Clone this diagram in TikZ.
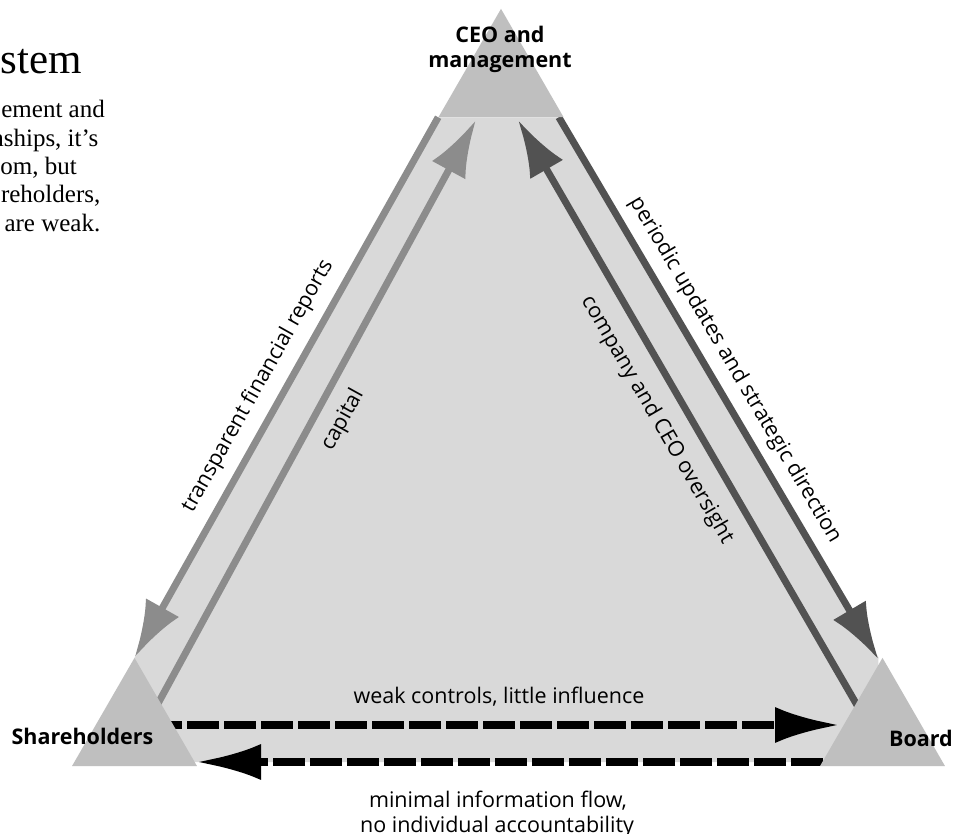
\documentclass[tikz,border=0pt]{standalone}
\usepackage{fontspec}
\setmainfont{Open Sans}
\newfontfamily\serifA{Liberation Serif}
\usetikzlibrary{arrows.meta,shapes.geometric}
\definecolor{regionfill}{HTML}{D9D9D9}
\definecolor{trifill}{HTML}{BFBFBF}
\definecolor{lgray}{HTML}{8C8C8C}
\definecolor{dgray}{HTML}{525252}
\pgfdeclarelayer{bglayer}
\pgfdeclarelayer{midlayer}
\pgfsetlayers{bglayer,midlayer,main}
\begin{document}
\begin{tikzpicture}[x=1pt,y=-1pt,
  tribox/.style={regular polygon, regular polygon sides=3, minimum size=144.3pt, inner sep=0pt, fill=trifill, draw=none},
  lbl/.style={font=\fontsize{21.5}{25}\selectfont, inner sep=0pt},
  blbl/.style={font=\fontsize{21.5}{25}\selectfont\bfseries, inner sep=0pt},
  flowL/.style={line width=7pt, draw=lgray, -{Latex[length=57pt,width=38pt]}},
  flowD/.style={line width=7pt, draw=dgray, -{Latex[length=57pt,width=38pt]}},
  dashflow/.style={line width=8pt, draw=black, dash pattern=on 32pt off 5pt, -{Latex[length=65pt,width=36pt]}},
  paratext/.style={font=\serifA\fontsize{25}{28.7}\selectfont, inner sep=0pt, anchor=base east},
]
\useasboundingbox (0,0) rectangle (953,834);

% corner triangles
\node[tribox] (ceo) at (501,81) {};
\node[tribox] (sh) at (134.5,730) {};
\node[tribox] (bd) at (882.5,730) {};

% background and light region
\begin{pgfonlayer}{bglayer}
\fill[white] (0,0) rectangle (953,834);
\fill[regionfill] (ceo.corner 2) -- ([xshift=-5pt]ceo.corner 3) -- ([xshift=-4pt]bd.corner 1)
  -- (877.5,762) -- (134.5,762) -- (sh.corner 1) -- cycle;
\end{pgfonlayer}

% connectors
\coordinate (capA) at (155,709);
\coordinate (capB) at (476,120);
\coordinate (ovA) at (861,712);
\coordinate (ovB) at (518,120);
\coordinate (wkA) at (150,725);
\coordinate (wkB) at (840,725);
\coordinate (mnA) at (860,762);
\coordinate (mnB) at (196,762);
\begin{pgfonlayer}{midlayer}
\draw[flowL] (ceo.corner 2) -- (sh.corner 1);
\draw[flowL] (capA) -- (capB);
\draw[flowD] ([xshift=-5pt]ceo.corner 3) -- ([xshift=-4pt,yshift=-2pt]bd.corner 1);
\draw[flowD] (ovA) -- (ovB);
\draw[dashflow] (wkA) -- (wkB);
\draw[dashflow] (mnA) -- (mnB);
\end{pgfonlayer}

% node labels
\node[blbl, anchor=base] (ceoA) at (500,43) {CEO and};
\node[blbl, anchor=base] (ceoB) at (500,68) {management};
\node[blbl, anchor=base] (shL) at (82.5,744) {Shareholders};
\node[blbl, anchor=base] (bdL) at (921,746) {Board};

% connector labels
\node[lbl, anchor=base] (weak) at (499,703) {weak controls, little influence};
\node[lbl, anchor=base] (minA) at (498,807.5) {minimal information flow,};
\node[lbl, anchor=base] (minB) at (497,832) {no individual accountability};
\node[lbl, rotate=60.6] (tfr) at (258,386) {transparent financial reports};
\node[lbl, rotate=61] (cap) at (343,420) {capital};
\node[lbl, rotate=-59.5] (pud) at (735,370) {periodic updates and strategic direction};
\node[lbl, rotate=-59.8] (cco) at (657,420) {company and CEO oversight};

% cropped title and text
\node[font=\serifA\fontsize{43}{50}\selectfont, inner sep=0pt, anchor=base east] (ttl) at (82,74) {stem};
\node[paratext] (p1) at (105,117.3) {ement and};
\node[paratext] (p2) at (98.5,146.7) {nships, it’s};
\node[paratext] (p3) at (77,174.5) {om, but};
\node[paratext] (p4) at (100.5,203) {reholders,};
\node[paratext] (p5) at (100.5,231.7) {are weak.};
\end{tikzpicture}
\end{document}
